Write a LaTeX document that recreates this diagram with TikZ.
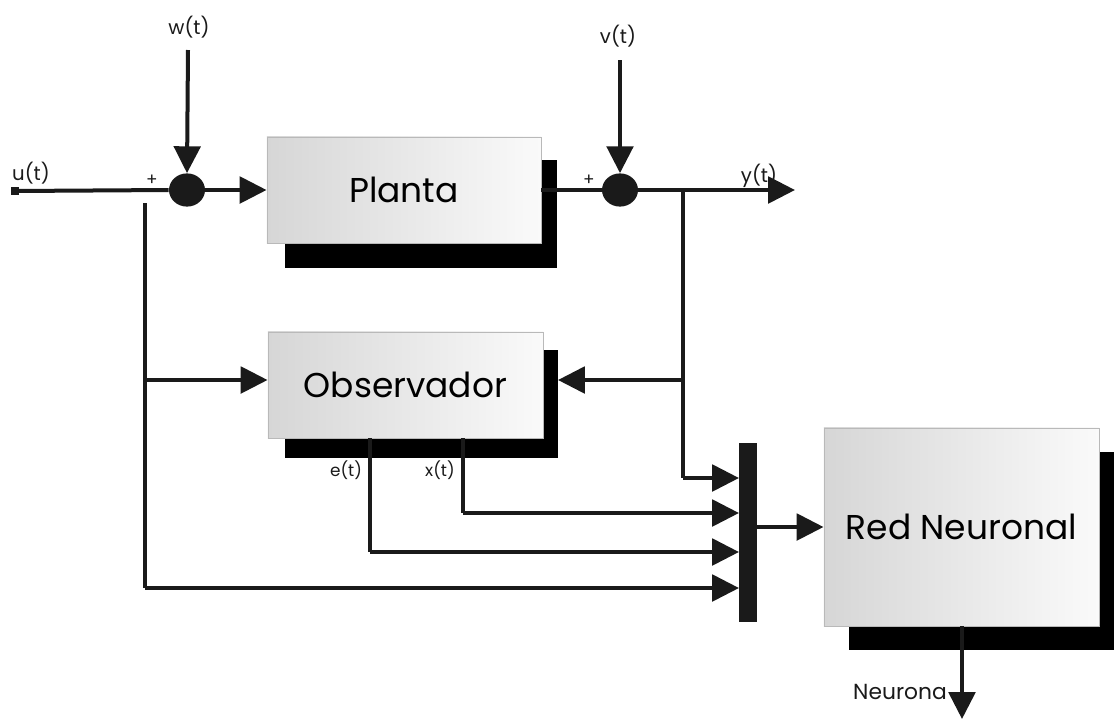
\documentclass[tikz,border=0pt]{standalone}
\usepackage{fontspec}
\setmainfont{Poppins}
\usetikzlibrary{arrows.meta,shapes.geometric}
\definecolor{ink}{HTML}{1A1A1A}
\definecolor{boxleft}{HTML}{D6D6D6}
\definecolor{boxright}{HTML}{FAFAFA}
\tikzset{
  wire/.style={draw=ink,line width=0.1cm},
  arr/.style={wire,-{Triangle[length=0.67cm,width=0.66cm]}},
  blockbox/.style={draw=gray!55,line width=0.6pt,left color=boxleft,right color=boxright,
    minimum width=6.85cm,minimum height=2.65cm,inner sep=0pt,font=\fontsize{24.5}{27}\selectfont},
  shadowbox/.style={fill=black,draw=none},
  sumnode/.style={ellipse,fill=ink,draw=none,minimum width=0.9cm,minimum height=0.83cm,inner sep=0pt},
  lbl/.style={font=\fontsize{14}{16}\selectfont,inner sep=0pt,text=ink},
  smalllbl/.style={font=\fontsize{12}{14}\selectfont,inner sep=0pt,text=ink},
}
\begin{document}
\begin{tikzpicture}[x=0.025cm,y=-0.025cm]
\useasboundingbox (0,0) rectangle (1114,719);
% shadows
\fill[shadowbox] (285,160) rectangle (557,268);
\fill[shadowbox] (285,350) rectangle (558,458);
\fill[shadowbox] (849,452) rectangle (1114,650);
% blocks
\node[blockbox] (planta) at (404,190) {Planta};
\node[blockbox,minimum width=6.875cm] (obs) at (405.5,385) {Observador};
\node[blockbox,minimum width=6.875cm,minimum height=4.95cm] (red) at (961.5,527) {Red Neuronal};
\node[fill=ink,minimum width=0.45cm,minimum height=4.475cm,inner sep=0pt] (bar) at (748,532.5) {};
% summing junctions
\node[sumnode] (s1) at (187,190) {};
\node[sumnode] (s2) at (620,190) {};
% input marker
\node[fill=ink,minimum size=0.2cm,inner sep=0pt] (usq) at (15,191) {};
% labels
\node[lbl] (ul) at (31,173) {u(t)};
\node[lbl] (wl) at (189,27) {w(t)};
\node[lbl] (vl) at (618,36) {v(t)};
\node[lbl] (yl) at (759,176) {y(t)};
\node[smalllbl] (p1) at (152,180) {+};
\node[smalllbl] (p2) at (589,180) {+};
\node[smalllbl] (el) at (346,470) {e(t)};
\node[smalllbl] (xl) at (440,470) {x(t)};
\node[lbl,font=\fontsize{15.5}{17}\selectfont] (nl) at (900,692) {Neurona};
% coordinates
\coordinate (wtop) at (188,50);
\coordinate (vtop) at (620,60);
\coordinate (yout) at (795,190);
\coordinate (br) at (683,190);
\coordinate (brobs) at (683,380);
\coordinate (brbar) at (683,478);
\coordinate (obsR) at (558,380);
\coordinate (in1) at (739,478);
\coordinate (in2) at (739,513);
\coordinate (in3) at (739,552);
\coordinate (in4) at (739,588);
\coordinate (fbtop) at (145,203);
\coordinate (fbobs) at (145,380);
\coordinate (fbbot) at (145,588);
\coordinate (etop) at (370,438);
\coordinate (ebot) at (370,552);
\coordinate (xtop) at (463,438);
\coordinate (xbot) at (463,513);
\coordinate (nout) at (962,719);
% connectors
\draw[wire] (usq.center) -- (s1.west);
\draw[arr] (wtop) -- (s1.north);
\draw[arr] (s1.east) -- (planta.west);
\draw[wire] (planta.east) -- (s2.west);
\draw[arr] (vtop) -- (s2.north);
\draw[arr] (s2.east) -- (yout);
\draw[wire] (br) -- (brbar);
\draw[arr] (brobs) -- (obsR);
\draw[arr] (brbar) -- (in1);
\draw[wire] (fbtop) -- (fbbot);
\draw[arr] (fbobs) -- (obs.west |- fbobs);
\draw[arr] (fbbot) -- (in4);
\draw[wire] (etop) -- (ebot);
\draw[arr] (ebot) -- (in3);
\draw[wire] (xtop) -- (xbot);
\draw[arr] (xbot) -- (in2);
\draw[arr] (bar.east |- red.west) -- (red.west);
\draw[arr] (red.south -| nout) -- (nout);
\end{tikzpicture}
\end{document}
